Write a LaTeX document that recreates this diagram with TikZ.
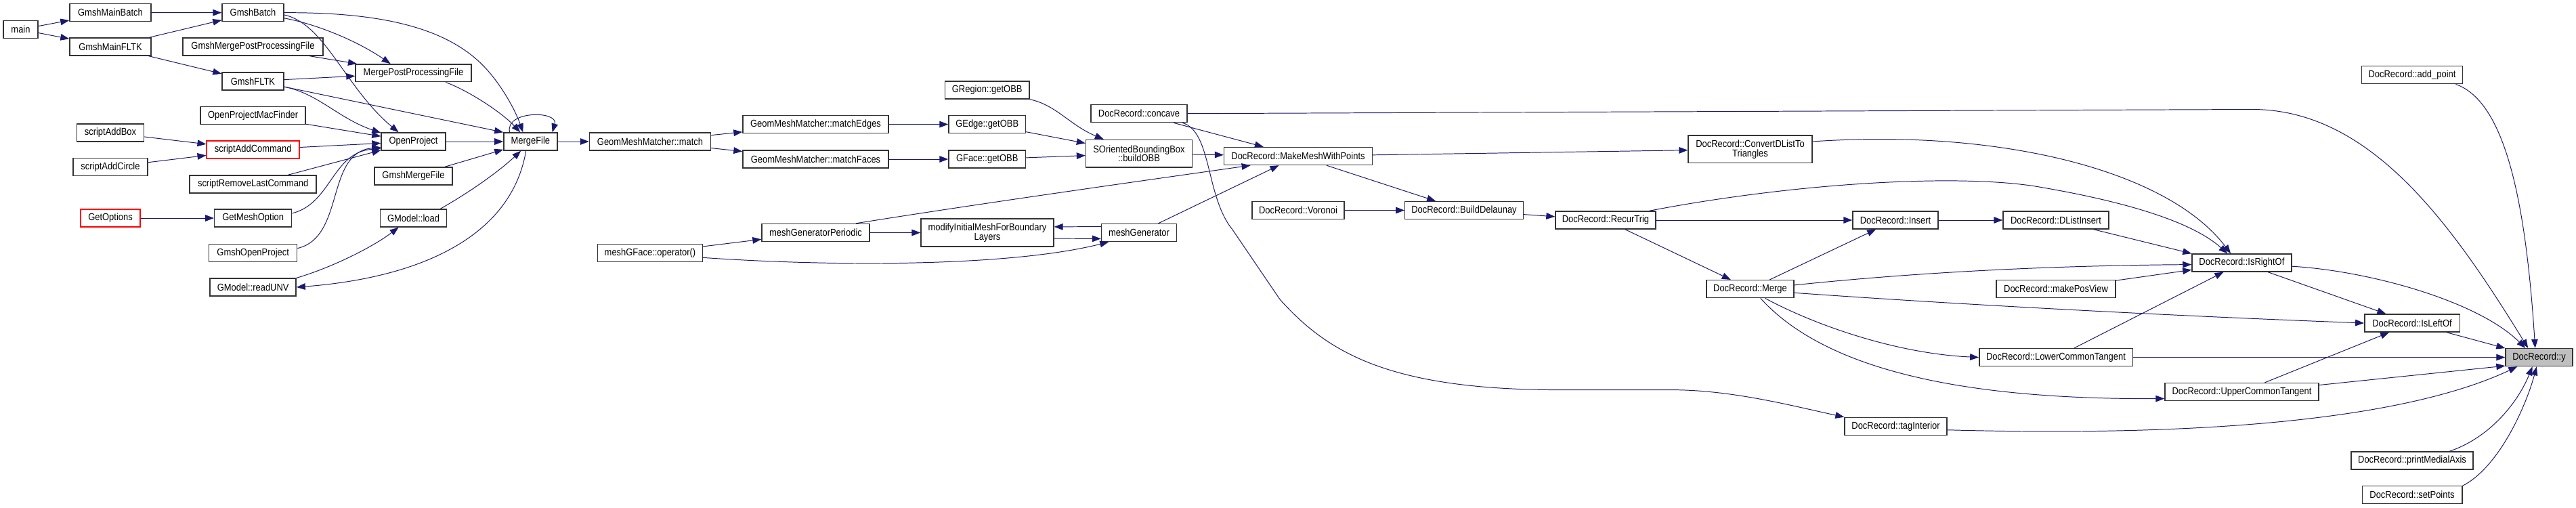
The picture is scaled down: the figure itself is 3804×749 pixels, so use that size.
\documentclass[tikz,border=0pt]{standalone}
\usepackage{fontspec}
\setmainfont{Liberation Sans}[FakeStretch=0.88]
\usetikzlibrary{arrows.meta}

\definecolor{edgeblue}{HTML}{191970}

\begin{document}
\begin{tikzpicture}[
    x=0.027cm,
    y=-0.027cm,
    >={Triangle[length=0.35cm,width=0.26cm]},
    func/.style={
        draw=black!80,
        line width=1.1pt,
        fill=white,
        align=center,
        inner xsep=2pt,
        inner ysep=1pt,
        minimum height=0.70cm,
        font=\fontsize{11.3}{10.6}\selectfont
    },
    twoline/.style={
        func,
        minimum height=1.10cm
    },
    missing/.style={
        func,
        draw=red
    },
    root/.style={
        func,
        fill=black!25
    },
    boxw/.style={minimum width=#1*0.027cm},
    call/.style={->, draw=edgeblue, line width=0.75pt}
]

\path[use as bounding box, fill=white] (0,0) rectangle (3804,749);

% ============================================================
% Gmsh entry points
% ============================================================

\node[func, boxw=51] (main) at (30.5,43.5)
    {main};

\node[func, boxw=120] (mainBatch) at (163,18.6)
    {GmshMainBatch};

\node[func, boxw=120] (mainFltk) at (163,69)
    {GmshMainFLTK};

\node[func, boxw=99] (addBox) at (163,196)
    {scriptAddBox};

\node[func, boxw=110] (addCircle) at (163,246.5)
    {scriptAddCircle};

\node[missing, boxw=88] (getOpts) at (163,322)
    {GetOptions};

% Second column

\node[func, boxw=91] (batch) at (373.5,18.7)
    {GmshBatch};

\node[func, boxw=207] (mergePostCmd) at (373.5,69)
    {GmshMergePostProcessingFile};

\node[func, boxw=91] (fltk) at (373.5,120)
    {GmshFLTK};

\node[func, boxw=155] (macFinder) at (373.7,170.5)
    {OpenProjectMacFinder};

\node[missing, boxw=137] (addCmd) at (373.7,221)
    {scriptAddCommand};

\node[func, boxw=187] (removeCmd) at (373.7,272)
    {scriptRemoveLastCommand};

\node[func, boxw=114] (meshOpt) at (373.7,322)
    {GetMeshOption};

\node[func, boxw=130] (gmshOpen) at (373.7,373.5)
    {GmshOpenProject};

\node[func, boxw=127] (readUnv) at (373.7,424)
    {GModel::readUNV};

% Third column

\node[func, boxw=171] (mergePost) at (610.5,107.8)
    {MergePostProcessingFile};

\node[func, boxw=95] (openProj) at (610.5,209)
    {OpenProject};

\node[func, boxw=115] (gmshMerge) at (610.5,260)
    {GmshMergeFile};

\node[func, boxw=97.5] (gmLoad) at (610.5,322)
    {GModel::load};

\node[func, boxw=79] (mergeFile) at (783.4,209)
    {MergeFile};

% ============================================================
% Geometry matching and meshing
% ============================================================

\node[func, boxw=179] (match) at (960,209)
    {GeomMeshMatcher::match};

\node[func, boxw=155] (gfaceOp) at (960,373.5)
    {meshGFace::operator()};

\node[func, boxw=215] (matchEdges) at (1204.5,183.6)
    {GeomMeshMatcher::matchEdges};

\node[func, boxw=215] (matchFaces) at (1204.5,235)
    {GeomMeshMatcher::matchFaces};

\node[func, boxw=159] (genPeriodic) at (1204.5,343.5)
    {meshGeneratorPeriodic};

\node[func, boxw=124.5] (regionObb) at (1457.7,133)
    {GRegion::getOBB};

\node[func, boxw=113.5] (edgeObb) at (1457.7,183.6)
    {GEdge::getOBB};

\node[func, boxw=113.5] (faceObb) at (1457.7,235)
    {GFace::getOBB};

\node[twoline, boxw=196] (modifyMesh) at (1458,343.5)
    {modifyInitialMeshForBoundary\\Layers};

\node[func, boxw=142] (concave) at (1682,167.7)
    {DocRecord::concave};

\node[twoline, boxw=157] (buildObb) at (1682,226.7)
    {SOrientedBoundingBox\\::buildOBB};

\node[func, boxw=111] (meshGen) at (1682,343.5)
    {meshGenerator};

\node[func, boxw=219] (makeMesh) at (1917,230.5)
    {DocRecord::MakeMeshWithPoints};

\node[func, boxw=136] (voronoi) at (1917,310.5)
    {DocRecord::Voronoi};

% ============================================================
% DocRecord triangulation
% ============================================================

\node[func, boxw=174.5] (delaunay) at (2162,310.5)
    {DocRecord::BuildDelaunay};

\node[func, boxw=148] (recurTrig) at (2371,325)
    {DocRecord::RecurTrig};

\node[twoline, boxw=183] (convert) at (2584.5,220.3)
    {DocRecord::ConvertDListTo\\Triangles};

\node[func, boxw=129] (merge) at (2584.5,426.6)
    {DocRecord::Merge};

\node[func, boxw=126] (insert) at (2799,325)
    {DocRecord::Insert};

\node[func, boxw=151] (tagInt) at (2799.5,629.4)
    {DocRecord::tagInterior};

\node[func, boxw=156] (dlInsert) at (3036,325)
    {DocRecord::DListInsert};

\node[func, boxw=176] (posView) at (3036,426.6)
    {DocRecord::makePosView};

\node[func, boxw=226.5] (lowerTan) at (3036,527.6)
    {DocRecord::LowerCommonTangent};

\node[func, boxw=147] (rightOf) at (3310.4,388)
    {DocRecord::IsRightOf};

\node[func, boxw=227] (upperTan) at (3310.5,578.5)
    {DocRecord::UpperCommonTangent};

\node[func, boxw=149] (addPoint) at (3562,110.7)
    {DocRecord::add\_point};

\node[func, boxw=140.5] (leftOf) at (3562,477)
    {DocRecord::IsLeftOf};

\node[func, boxw=180] (medial) at (3562,680)
    {DocRecord::printMedialAxis};

\node[func, boxw=147.5] (setPts) at (3562,730.4)
    {DocRecord::setPoints};

\node[root, boxw=99] (docY) at (3749.5,527.6)
    {DocRecord::y};

% ============================================================
% Calls on the Gmsh side
% ============================================================

\draw[call] (main) -- (mainBatch);
\draw[call] (main) -- (mainFltk);
\draw[call] (mainBatch) -- (batch);
\draw[call] (mainFltk) -- (batch);
\draw[call] (mainFltk) -- (fltk);

\draw[call] (batch.east)
    .. controls (560,18) and (650,40) .. (704.6,88.4)
    .. controls (735,115) and (760,160) .. (mergeFile.129);
\draw[call] (batch.-10)
    .. controls (470,36) and (530,62) .. (mergePost.158);
\draw[call] (batch.-4)
    .. controls (480,35) and (510,130) .. (openProj.148);

\draw[call] (mergePostCmd) -- (mergePost);
\draw[call] (fltk) -- (mergePost);
\draw[call] (fltk.-10) -- (mergeFile.north west);
\draw[call] (fltk.-10)
    .. controls (470,138) and (500,175) .. (openProj.165);
\draw[call] (mergePost.-16)
    .. controls (690,133) and (740,165) .. (mergeFile.138);

\draw[call] (macFinder) -- (openProj);
\draw[call] (addBox) -- (addCmd);
\draw[call] (addCircle) -- (addCmd);
\draw[call] (addCmd) -- (openProj);
\draw[call] (removeCmd) -- (openProj);
\draw[call] (getOpts) -- (meshOpt);
\draw[call] (meshOpt.7)
    .. controls (490,300) and (490,225) .. (openProj.192);
\draw[call] (gmshOpen.6)
    .. controls (510,350) and (480,225) .. (openProj.190);

\draw[call] (openProj) -- (mergeFile);
\draw[call] (gmshMerge) -- (mergeFile);
\draw[call] (gmLoad.19)
    .. controls (700,280) and (740,250) .. (mergeFile.-136);
\draw[call] (mergeFile.-116)
    .. controls (755,350) and (620,410) .. (readUnv.east);
\draw[call] (readUnv.north east)
    .. controls (490,395) and (550,365) .. (gmLoad.-148);

% MergeFile calls itself
\draw[call] (mergeFile.156)
    .. controls (745,163) and (825,163) .. (mergeFile.23);

% ============================================================
% Calls through the meshers
% ============================================================

\draw[call] (mergeFile) -- (match);
\draw[call] (match) -- (matchEdges);
\draw[call] (match) -- (matchFaces);
\draw[call] (matchEdges) -- (edgeObb);
\draw[call] (matchFaces) -- (faceObb);
\draw[call] (regionObb.south east)
    .. controls (1560,155) and (1580,185) .. (buildObb.158);
\draw[call] (edgeObb) -- (buildObb);
\draw[call] (faceObb) -- (buildObb);
\draw[call] (buildObb) -- (makeMesh);

\draw[call] (gfaceOp) -- (genPeriodic);
\draw[call] (gfaceOp.-5)
    .. controls (1250,395) and (1500,392) .. (meshGen.-163);
\draw[call] (genPeriodic) -- (modifyMesh);
\draw[call] (genPeriodic.13)
    .. controls (1450,300) and (1700,265) .. (makeMesh.-169);
\draw[call] (modifyMesh.-5) -- (meshGen.189);
\draw[call] (meshGen.171) -- (modifyMesh.5);
\draw[call] (meshGen) -- (makeMesh);

\draw[call] (concave) -- (makeMesh);
\draw[call] (concave.east) -- (3325,161.5)
    .. controls (3500,161) and (3620,330) .. (docY.140);
\draw[call] (concave.-12)
    .. controls (1790,195) and (1780,290) .. (1820,339)
    -- (1890,442)
    .. controls (1960,520) and (2050,575) .. (2300,575.6)
    -- (2470,575.6)
    .. controls (2560,576) and (2650,600) .. (tagInt.north west);

\draw[call] (makeMesh) -- (convert);
\draw[call] (makeMesh) -- (delaunay);
\draw[call] (voronoi) -- (delaunay);
\draw[call] (delaunay) -- (recurTrig);

% ============================================================
% Calls down to DocRecord::y
% ============================================================

\draw[call] (recurTrig.12)
    .. controls (2650,270) and (2900,255) .. (3017,277)
    .. controls (3150,300) and (3240,330) .. (rightOf.147);
\draw[call] (recurTrig) -- (insert);
\draw[call] (recurTrig) -- (merge);
\draw[call] (convert.7)
    .. controls (2950,190) and (3200,250) .. (rightOf.140);

\draw[call] (insert) -- (dlInsert);
\draw[call] (dlInsert) -- (rightOf.north west);
\draw[call] (merge) -- (insert);
\draw[call] (merge.5)
    .. controls (2850,400) and (3050,392) .. (rightOf.182);
\draw[call] (posView) -- (rightOf);
\draw[call] (merge.-5)
    .. controls (2900,450) and (3200,466) .. (leftOf.west);
\draw[call] (merge.-32)
    .. controls (2680,480) and (2800,522) .. (lowerTan.west);
\draw[call] (merge.-42)
    .. controls (2690,540) and (2880,590) .. (upperTan.185);

\draw[call] (lowerTan) -- (rightOf);
\draw[call] (lowerTan) -- (docY);
\draw[call] (upperTan) -- (leftOf);
\draw[call] (upperTan.5) -- (docY.194);
\draw[call] (tagInt.-4)
    .. controls (3250,645) and (3550,620) .. (docY.-157);

\draw[call] (rightOf.-4)
    .. controls (3500,400) and (3660,445) .. (docY.146);
\draw[call] (rightOf) -- (leftOf);
\draw[call] (leftOf) -- (docY);

\draw[call] (addPoint.-12)
    .. controls (3700,150) and (3730,300) .. (docY.113);
\draw[call] (medial.14)
    .. controls (3680,645) and (3720,590) .. (docY.-126);
\draw[call] (setPts.10)
    .. controls (3690,690) and (3730,600) .. (docY.-105);

\end{tikzpicture}
\end{document}
